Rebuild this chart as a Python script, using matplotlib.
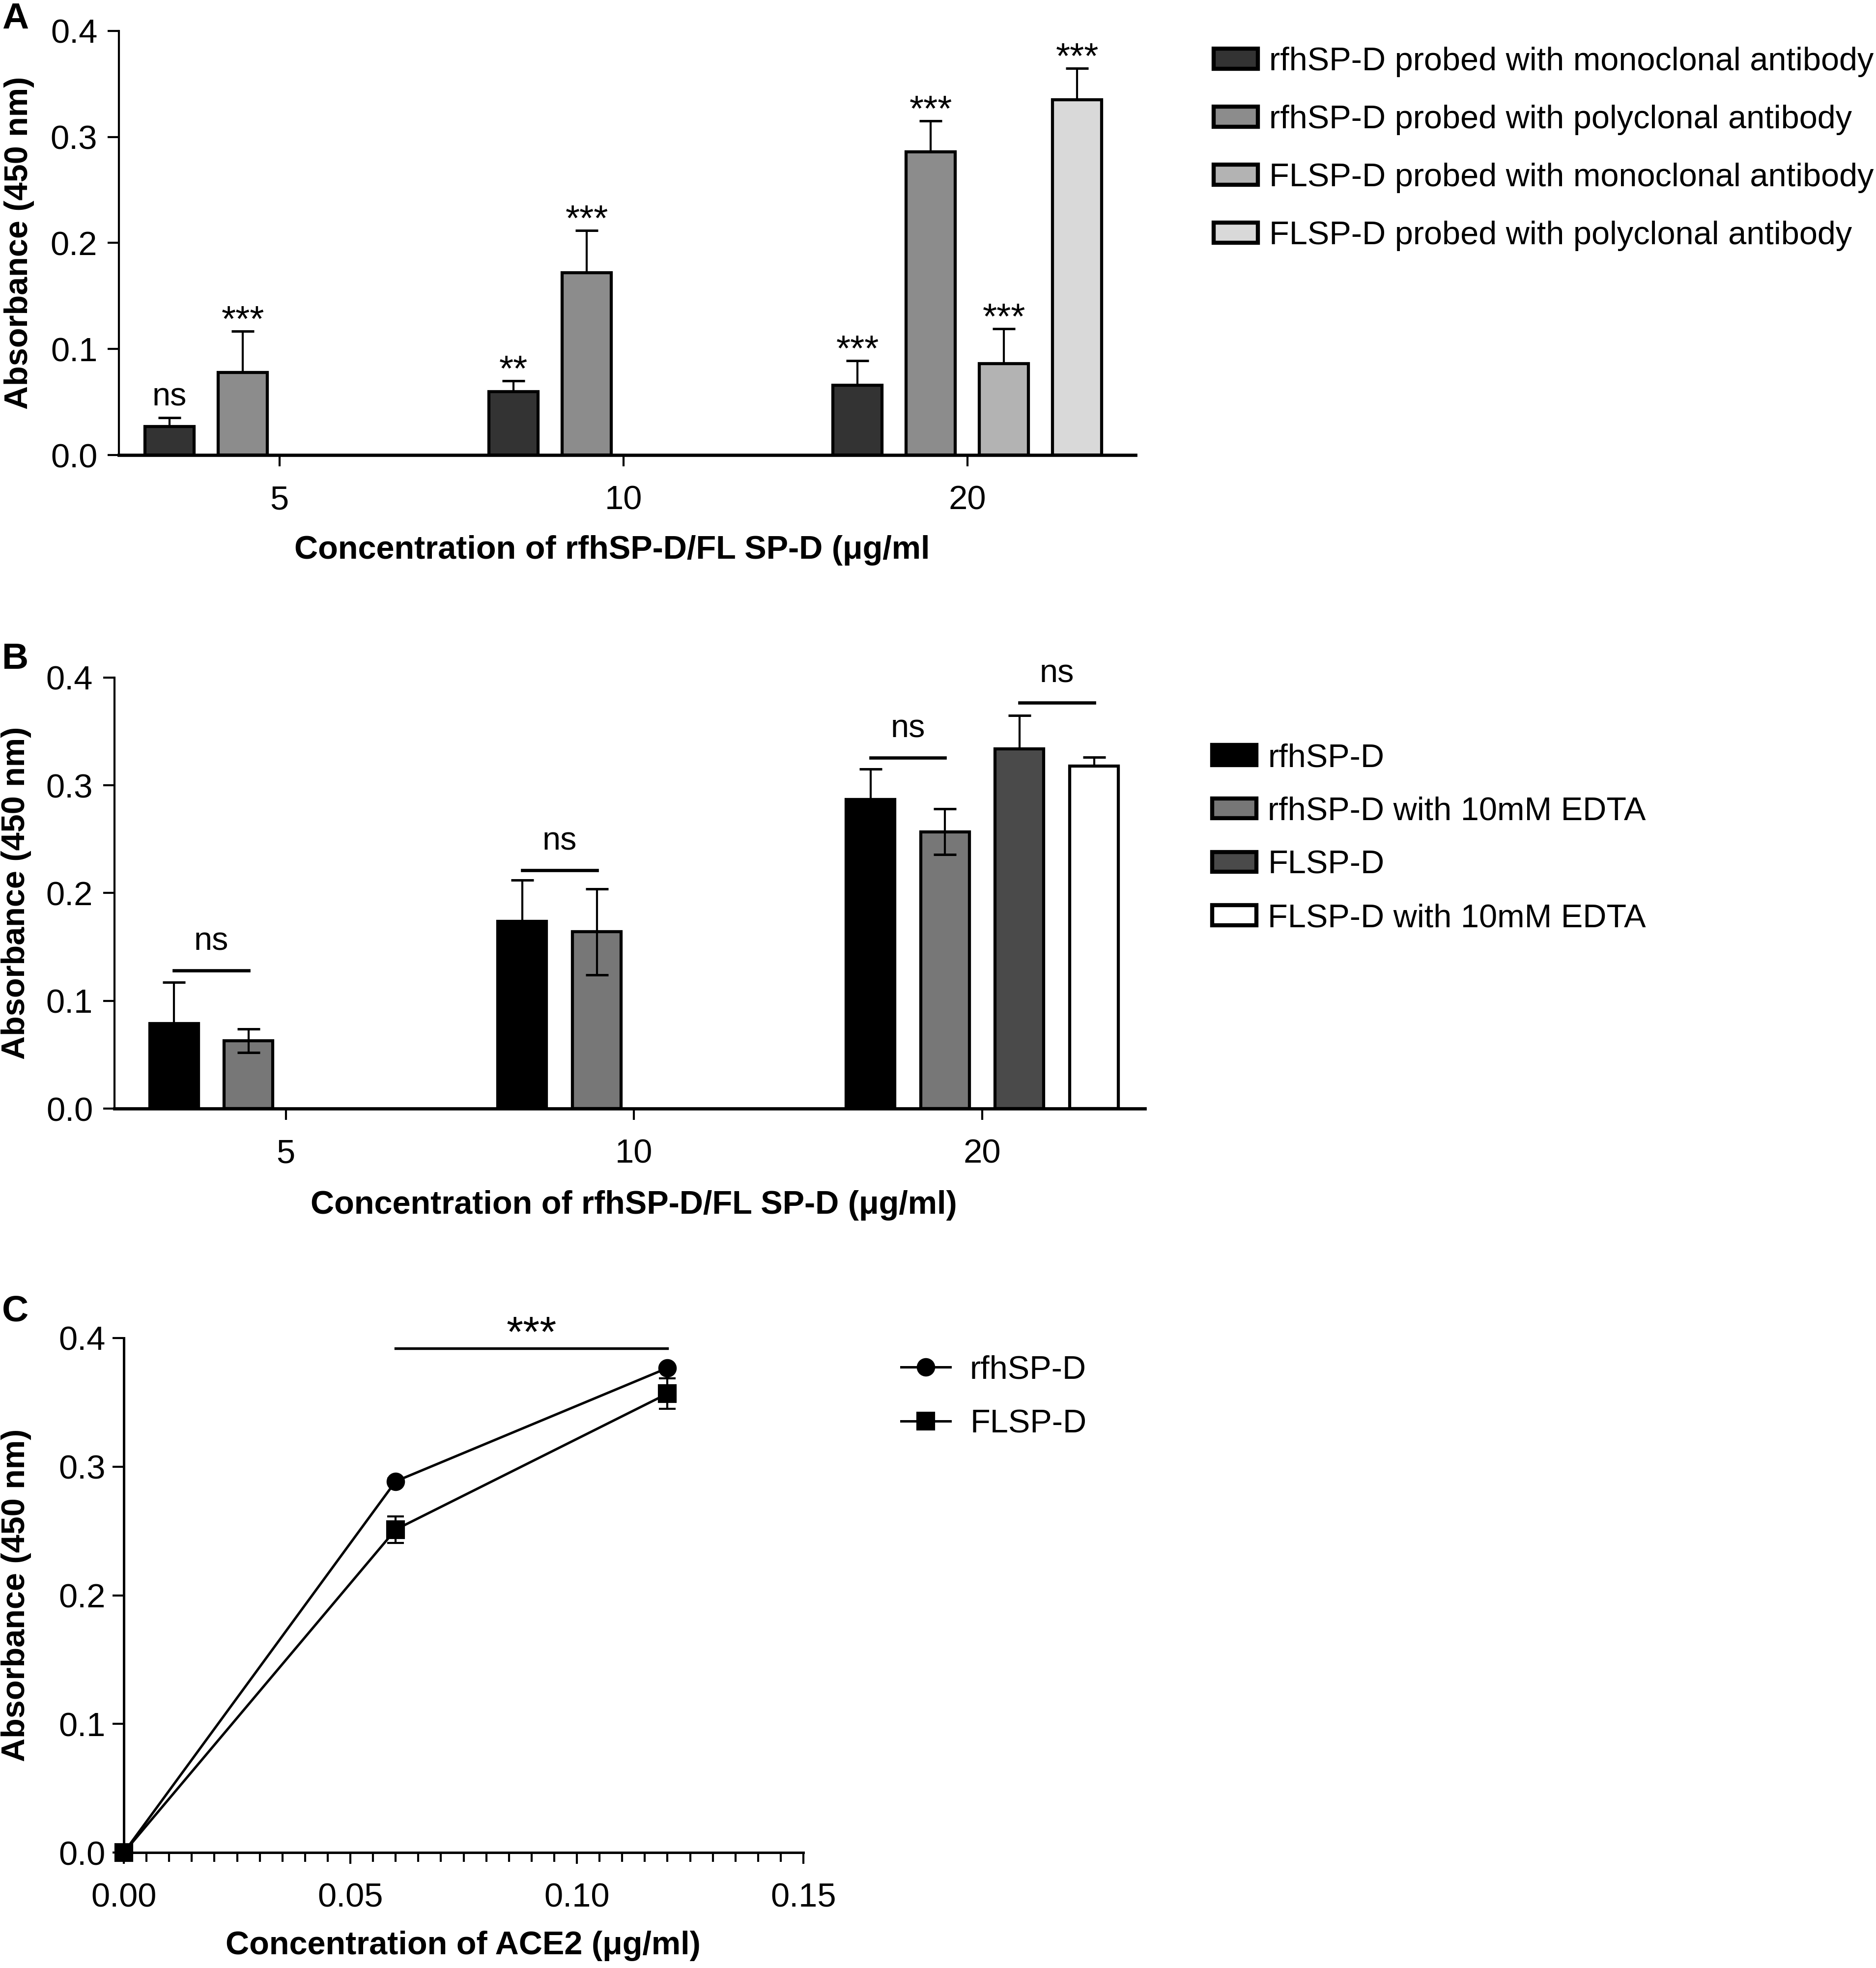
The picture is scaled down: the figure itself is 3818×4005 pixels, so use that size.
import numpy as np
import matplotlib.pyplot as plt
from matplotlib.patches import Patch
from matplotlib.lines import Line2D
from matplotlib.ticker import MultipleLocator, FormatStrFormatter

plt.rcParams['font.family'] = ['Liberation Sans', 'DejaVu Sans']
plt.rcParams['axes.linewidth'] = 1.2

conc_labels = ['5', '10', '20']

# Panel A data: rows = series, columns = concentration (nan = not measured)
a_names = ['rfhSP-D probed with monoclonal antibody',
           'rfhSP-D probed with polyclonal antibody',
           'FLSP-D probed with monoclonal antibody',
           'FLSP-D probed with polyclonal antibody']
a_colors = ['#333333', '#8c8c8c', '#b3b3b3', '#d9d9d9']
a_mean = [[0.027, 0.060, 0.066],
          [0.078, 0.172, 0.286],
          [np.nan, np.nan, 0.086],
          [np.nan, np.nan, 0.335]]
a_err = [[0.008, 0.010, 0.023],
         [0.039, 0.040, 0.029],
         [np.nan, np.nan, 0.033],
         [np.nan, np.nan, 0.030]]
a_sig = [['ns', '**', '***'],
         ['***', '***', '***'],
         ['', '', '***'],
         ['', '', '***']]

# Panel B data
b_names = ['rfhSP-D', 'rfhSP-D with 10mM EDTA', 'FLSP-D', 'FLSP-D with 10mM EDTA']
b_colors = ['#000000', '#777777', '#4a4a4a', '#ffffff']
b_mean = [[0.079, 0.174, 0.287],
          [0.063, 0.164, 0.257],
          [np.nan, np.nan, 0.334],
          [np.nan, np.nan, 0.318]]
b_err = [[0.038, 0.038, 0.028],
         [0.011, 0.040, 0.021],
         [np.nan, np.nan, 0.031],
         [np.nan, np.nan, 0.008]]
b_two_sided = [False, True, False, False]
# ns brackets: (group, first slot, second slot, line height)
b_brackets = [(0, 0, 1, 0.128), (1, 0, 1, 0.221), (2, 0, 1, 0.3255), (2, 2, 3, 0.3767)]

# Panel C data
ace2 = [0.0, 0.06, 0.12]
c_rfh = [0.0, 0.2886, 0.3767]
c_rfh_err = [0.0, 0.002, 0.002]
c_fl = [0.0, 0.2511, 0.3568]
c_fl_err = [0.0, 0.0103, 0.0118]

W, H = 3818, 4005
fig = plt.figure(figsize=(W / 300, H / 300), dpi=300)


def px_axes(left, top, right, bottom):
    return fig.add_axes([left / W, 1 - bottom / H, (right - left) / W, (bottom - top) / H])


tick_fs = 16.5
label_fs = 16


def style_bar_axes(ax):
    ax.spines['top'].set_visible(False)
    ax.spines['right'].set_visible(False)
    ax.spines['bottom'].set_linewidth(1.6)
    ax.spines['left'].set_linewidth(1.0)
    ax.set_ylim(0, 0.4)
    ax.yaxis.set_major_locator(MultipleLocator(0.1))
    ax.yaxis.set_major_formatter(FormatStrFormatter('%.1f'))
    ax.tick_params(axis='y', direction='out', length=5.5, width=1.0, pad=5, labelsize=tick_fs)
    ax.tick_params(axis='x', direction='out', length=5.5, width=1.0, pad=9, labelsize=tick_fs)
    ax.set_xticks(range(len(conc_labels)))
    ax.set_xticklabels(conc_labels)


def grouped_bars(ax, means, errs, colors, slot, width, lower_flags):
    xs_all = []
    for i, (m, e, c) in enumerate(zip(means, errs, colors)):
        m = np.array(m, dtype=float)
        e = np.array(e, dtype=float)
        ok = ~np.isnan(m)
        x = np.arange(len(m))[ok] + (i - 1.5) * slot
        ax.bar(x, m[ok], width, color=c, edgecolor='black', linewidth=1.5, zorder=2)
        low = e[ok] if lower_flags[i] else np.zeros(ok.sum())
        ax.errorbar(x, m[ok], yerr=[low, e[ok]], fmt='none', ecolor='black',
                    elinewidth=1.0, capsize=5.5, capthick=1.2, zorder=3)
        xs_all.append((x, m[ok] + e[ok], ok))
    return xs_all


# ---------------- Panel A ----------------
axA = px_axes(242, 63, 2311, 926)
slotA, widthA = 0.213, 0.143
resA = grouped_bars(axA, a_mean, a_err, a_colors, slotA, widthA, [False] * 4)
axA.set_xlim(-0.467, 2.489)
style_bar_axes(axA)
for i, (x, tops, ok) in enumerate(resA):
    labels = [s for s, k in zip(a_sig[i], ok) if k]
    for xi, ti, s in zip(x, tops, labels):
        if s == 'ns':
            axA.annotate(s, (xi, ti), xytext=(0, 6), textcoords='offset points',
                         ha='center', va='baseline', fontsize=16)
        else:
            axA.annotate(s, (xi, ti), xytext=(0, 0), textcoords='offset points',
                         ha='center', va='baseline', fontsize=18)
axA.set_xlabel('Concentration of rfhSP-D/FL SP-D (\u03bcg/ml', fontsize=label_fs, fontweight='bold')
axA.xaxis.set_label_coords(0.485, -0.189)
axA.set_ylabel('Absorbance (450 nm)', fontsize=label_fs, fontweight='bold')
axA.yaxis.set_label_coords(-0.083, 0.5)
handlesA = [Patch(facecolor=c, edgecolor='black', linewidth=2) for c in a_colors]
fig.legend(handlesA, a_names, loc='upper left', bbox_to_anchor=(2470 / W, 1 - 95 / H),
           frameon=False, fontsize=16, handlelength=1.35, handleheight=0.55,
           handletextpad=0.35, labelspacing=0.84, borderpad=0, borderaxespad=0)

# ---------------- Panel B ----------------
axB = px_axes(233, 1379, 2330, 2256)
slotB, widthB = 0.214, 0.14
resB = grouped_bars(axB, b_mean, b_err, b_colors, slotB, widthB, b_two_sided)
axB.set_xlim(-0.492, 2.467)
style_bar_axes(axB)
for g, s1, s2, h in b_brackets:
    x1 = g + (s1 - 1.5) * slotB
    x2 = g + (s2 - 1.5) * slotB
    axB.plot([x1, x2], [h, h], color='black', lw=1.6, clip_on=False)
    axB.annotate('ns', ((x1 + x2) / 2, h), xytext=(0, 10), textcoords='offset points',
                 ha='center', va='baseline', fontsize=16, annotation_clip=False)
axB.set_xlabel('Concentration of rfhSP-D/FL SP-D (\u03bcg/ml)', fontsize=label_fs, fontweight='bold')
axB.xaxis.set_label_coords(0.504, -0.189)
axB.set_ylabel('Absorbance (450 nm)', fontsize=label_fs, fontweight='bold')
axB.yaxis.set_label_coords(-0.0806, 0.5)
handlesB = [Patch(facecolor=c, edgecolor='black', linewidth=2) for c in b_colors]
fig.legend(handlesB, b_names, loc='upper left', bbox_to_anchor=(2467 / W, 1 - 1512 / H),
           frameon=False, fontsize=16, handlelength=1.35, handleheight=0.55,
           handletextpad=0.35, labelspacing=0.7, borderpad=0, borderaxespad=0)

# ---------------- Panel C ----------------
axC = px_axes(252, 2723, 1635, 3770)
axC.errorbar(ace2, c_rfh, yerr=c_rfh_err, color='black', lw=1.2, marker='o', markersize=8,
             capsize=4, elinewidth=1.0, capthick=1.0, clip_on=False, zorder=3, label='rfhSP-D')
axC.errorbar(ace2, c_fl, yerr=c_fl_err, color='black', lw=1.2, marker='s', markersize=8,
             capsize=4, elinewidth=1.0, capthick=1.0, clip_on=False, zorder=3, label='FLSP-D')
axC.plot([ace2[1], ace2[2]], [0.392, 0.392], color='black', lw=1.3, clip_on=False)
axC.annotate('***', ((ace2[1] + ace2[2]) / 2, 0.392), xytext=(0, 1), textcoords='offset points',
             ha='center', va='baseline', fontsize=21, annotation_clip=False)
axC.set_xlim(0, 0.15)
axC.set_ylim(0, 0.4)
axC.spines['top'].set_visible(False)
axC.spines['right'].set_visible(False)
axC.xaxis.set_major_locator(MultipleLocator(0.05))
axC.xaxis.set_minor_locator(MultipleLocator(0.005))
axC.xaxis.set_major_formatter(FormatStrFormatter('%.2f'))
axC.yaxis.set_major_locator(MultipleLocator(0.1))
axC.yaxis.set_major_formatter(FormatStrFormatter('%.1f'))
axC.tick_params(axis='both', which='major', direction='out', length=5.5, width=1.0, labelsize=tick_fs)
axC.tick_params(axis='x', which='major', pad=9)
axC.tick_params(axis='x', which='minor', direction='out', length=4.5, width=1.0)
axC.set_xlabel('Concentration of ACE2 (\u03bcg/ml)', fontsize=label_fs, fontweight='bold')
axC.xaxis.set_label_coords(0.499, -0.152)
axC.set_ylabel('Absorbance (450 nm)', fontsize=label_fs, fontweight='bold')
axC.yaxis.set_label_coords(-0.136, 0.5)
handlesC = [Line2D([], [], color='black', lw=1.2, marker='o', markersize=8),
            Line2D([], [], color='black', lw=1.2, marker='s', markersize=8)]
fig.legend(handlesC, ['rfhSP-D', 'FLSP-D'], loc='upper left', bbox_to_anchor=(1834 / W, 1 - 2757 / H),
           frameon=False, fontsize=16, handlelength=1.5, handletextpad=0.6,
           labelspacing=0.73, borderpad=0, borderaxespad=0)

# panel letters
for letter, ypx in [('A', 38), ('B', 1341), ('C', 2669)]:
    fig.text(31 / W, 1 - ypx / H, letter, fontsize=18, fontweight='bold', ha='center', va='center')

fig.savefig('out.png', dpi=300, facecolor='white')
